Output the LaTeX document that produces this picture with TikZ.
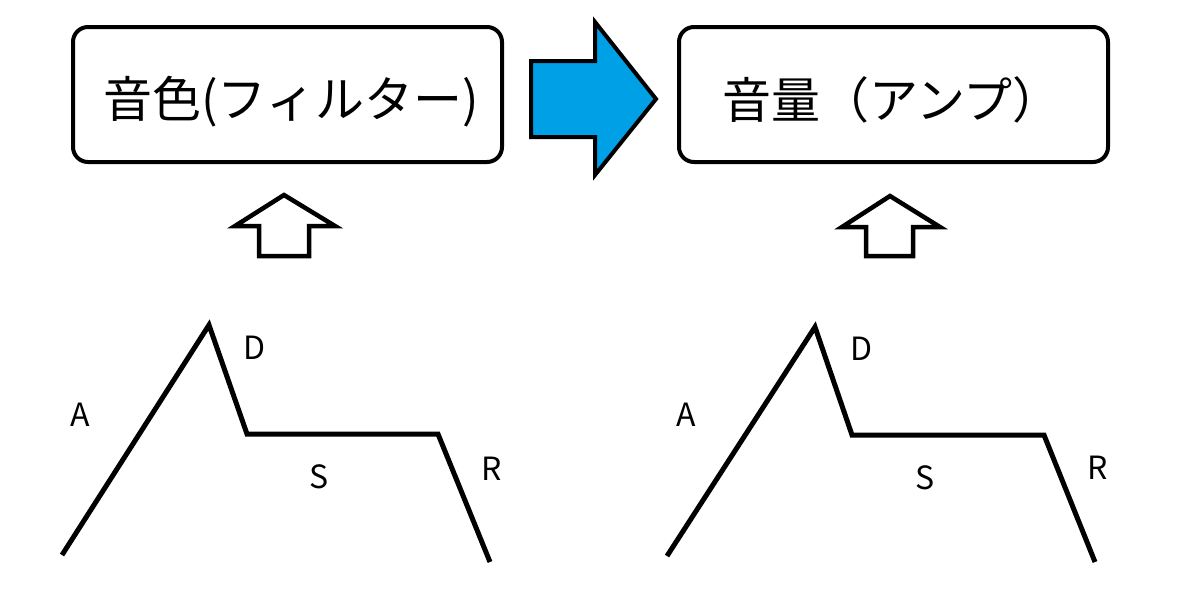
\documentclass[tikz,border=0pt]{standalone}
\usepackage{fontspec}
\newfontfamily\jpfont{Noto Sans CJK JP}
\definecolor{arrowblue}{RGB}{0,160,230}
\tikzset{
  box/.style={draw=black, line width=4pt, rounded corners=15pt, minimum width=429pt, minimum height=135pt, inner sep=0pt},
  boxtext/.style={font=\jpfont\fontsize{49}{56}\selectfont, inner sep=0pt, anchor=center},
  envlabel/.style={font=\jpfont\fontsize{32}{35}\selectfont, inner sep=0pt, anchor=center},
  envline/.style={line width=5pt, line join=miter, line cap=butt},
  uparrow/.style={draw=black, line width=4.5pt, line join=miter, fill=white},
  bigarrow/.style={draw=black, line width=4pt, line join=miter, fill=arrowblue}
}
\begin{document}
\begin{tikzpicture}[x=1pt,y=-1pt]
\useasboundingbox (0,0) rectangle (1194,598);
\fill[white] (0,0) rectangle (1194,598);
% boxes
\node[box] (filter) at (287.5,94.5) {};
\node[boxtext] (filtertext) at (291,102) {音色(フィルター)};
\node[box] (amp) at (893.5,94.5) {};
\node[boxtext] (amptext) at (892,100) {音量（アンプ）};
% big blue arrow
\draw[bigarrow] (531,61) -- (595,61) -- (595,22) -- (656,99) -- (595,175) -- (595,137) -- (531,137) -- cycle;
% small up arrows
\draw[uparrow] (284,195) -- (335,226) -- (309,226) -- (309,256) -- (259,256) -- (259,226) -- (235,226) -- cycle;
\draw[uparrow] (890,196) -- (940,227) -- (913,227) -- (913,256) -- (866,256) -- (866,227) -- (842,227) -- cycle;
% envelope 1
\coordinate (a0) at (62,555);
\coordinate (a1) at (209,325);
\coordinate (a2) at (247,434);
\coordinate (a3) at (438,434);
\coordinate (a4) at (490,562);
\draw[envline] (a0) -- (a1) -- (a2) -- (a3) -- (a4);
\node[envlabel] (la) at (80,415) {A};
\node[envlabel] (ld) at (255,348) {D};
\node[envlabel] (ls) at (319,477) {S};
\node[envlabel] (lr) at (492,469) {R};
% envelope 2
\coordinate (b0) at (667,556);
\coordinate (b1) at (815,327);
\coordinate (b2) at (852,435);
\coordinate (b3) at (1044,435);
\coordinate (b4) at (1095,562);
\draw[envline] (b0) -- (b1) -- (b2) -- (b3) -- (b4);
\node[envlabel] (ma) at (686,415) {A};
\node[envlabel] (md) at (861,349) {D};
\node[envlabel] (ms) at (925,478) {S};
\node[envlabel] (mr) at (1098,468) {R};
\end{tikzpicture}
\end{document}
